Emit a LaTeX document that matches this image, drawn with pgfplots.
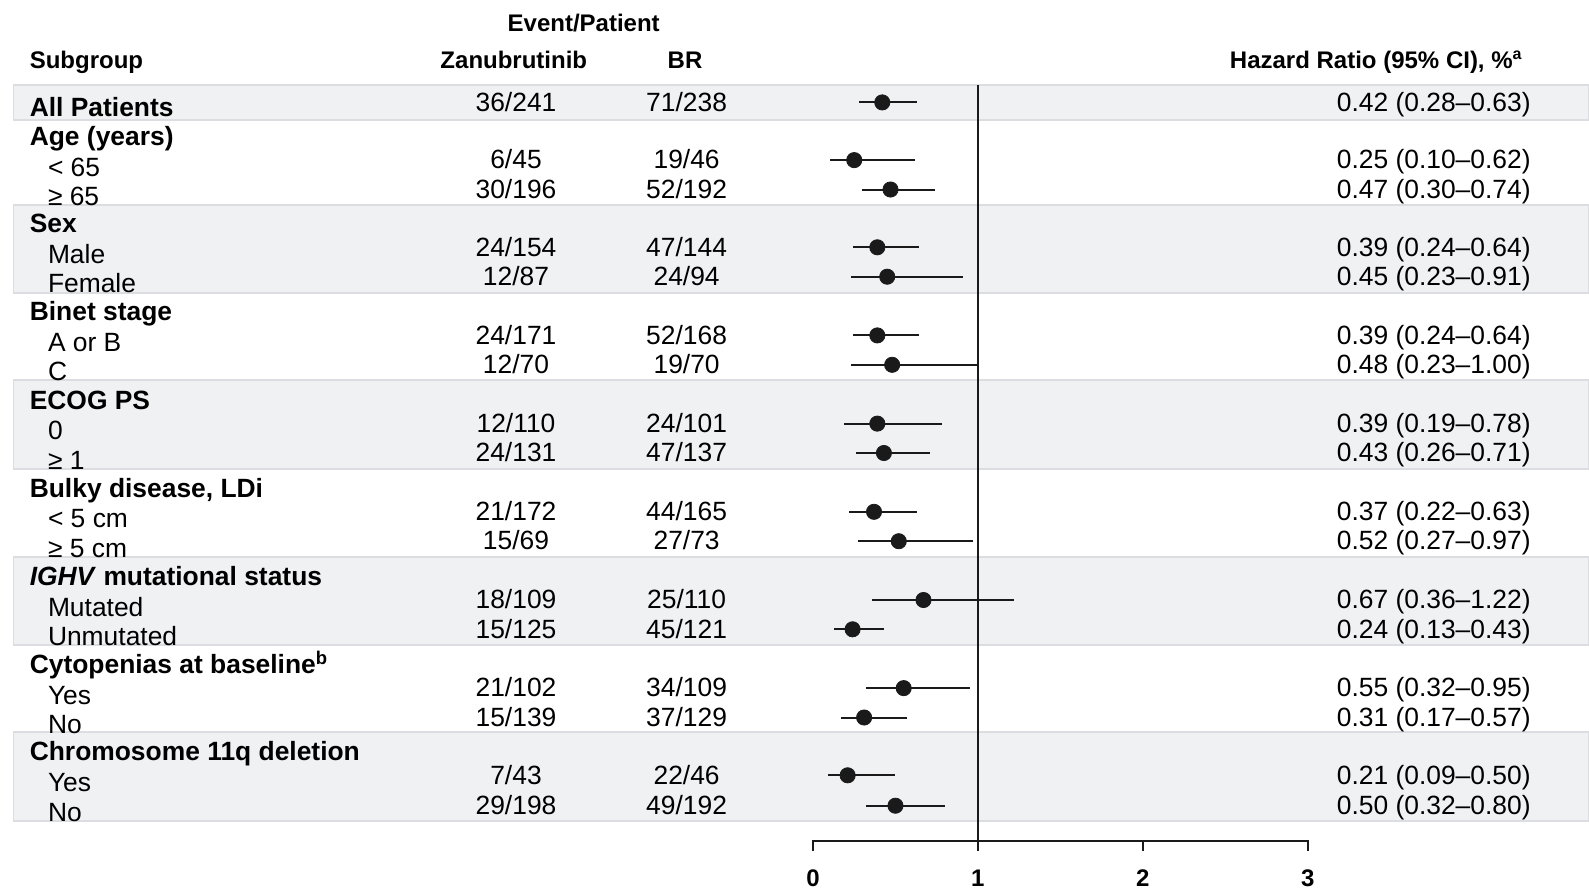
\documentclass[border=0pt]{standalone}
\usepackage{pgfplots}
\pgfplotsset{compat=1.18}
\usepackage{pgfplotstable}
\usepackage{fontspec}
\setmainfont{Liberation Sans}
\definecolor{band}{HTML}{F0F1F3}
\definecolor{bandline}{HTML}{DCDDE0}
\definecolor{ink}{HTML}{1A1A1A}

\pgfplotstableread{
y     hr    lo    hi
102.4 0.42  0.28  0.63
160.1 0.25  0.10  0.62
189.5 0.47  0.30  0.74
247.3 0.39  0.24  0.64
276.7 0.45  0.23  0.91
335.4 0.39  0.24  0.64
364.8 0.48  0.23  1.00
423.6 0.39  0.19  0.78
453.0 0.43  0.26  0.71
511.8 0.37  0.22  0.63
541.2 0.52  0.27  0.97
600.0 0.67  0.36  1.22
629.3 0.24  0.13  0.43
688.1 0.55  0.32  0.95
717.5 0.31  0.17  0.57
775.3 0.21  0.09  0.50
805.7 0.50  0.32  0.80
}\hrdata

\newcommand{\bodyf}{\fontsize{13.2}{15}\selectfont}
\newcommand{\headf}{\fontsize{12}{14}\selectfont\bfseries}

\begin{document}
\begin{tikzpicture}[every node/.append style={inner sep=0pt}]
\begin{axis}[
  width=794.5pt, height=445pt, scale only axis,
  xmin=-4.9303, xmax=4.7059,
  ymin=0, ymax=890, y dir=reverse,
  hide axis, clip=false,
]
% bands
\fill[band, draw=bandline, line width=0.6pt] (axis cs:-4.8496,85) rectangle (axis cs:4.7059,120);
\fill[band, draw=bandline, line width=0.6pt] (axis cs:-4.8496,205) rectangle (axis cs:4.7059,293);
\fill[band, draw=bandline, line width=0.6pt] (axis cs:-4.8496,380) rectangle (axis cs:4.7059,469);
\fill[band, draw=bandline, line width=0.6pt] (axis cs:-4.8496,557) rectangle (axis cs:4.7059,645);
\fill[band, draw=bandline, line width=0.6pt] (axis cs:-4.8496,732) rectangle (axis cs:4.7059,821);

% reference line and bottom axis
\addplot[ink, line width=1pt] coordinates {(1,85) (1,850.7)};
\addplot[ink, line width=1pt] coordinates {(0,850.7) (0,840.7) (3,840.7) (3,850.7)};
\addplot[ink, line width=1pt] coordinates {(2,840.7) (2,850.7)};

% estimates with CI
\addplot[only marks, mark=*, mark size=3.8pt, color=ink,
  error bars/.cd, x dir=both, x explicit, error mark=none,
  error bar style={line width=1pt, ink}]
  table[x=hr, y=y,
        x error plus expr=\thisrow{hi}-\thisrow{hr},
        x error minus expr=\thisrow{hr}-\thisrow{lo}] {\hrdata};

% tick labels
\node[anchor=base, font=\headf] at (axis cs:0,886.7) {0};
\node[anchor=base, font=\headf] at (axis cs:1,886.7) {1};
\node[anchor=base, font=\headf] at (axis cs:2,886.7) {2};
\node[anchor=base, font=\headf] at (axis cs:3,886.7) {3};

% column headers
\node[anchor=base, font=\headf] at (axis cs:-1.3905,31.7) {Event/Patient};
\node[anchor=base west, font=\headf] at (axis cs:-4.7520,68.3) {Subgroup};
\node[anchor=base, font=\headf] at (axis cs:-1.8144,68.3) {Zanubrutinib};
\node[anchor=base, font=\headf] at (axis cs:-0.7762,68.3) {BR};
\node[anchor=base east, font=\headf] at (axis cs:4.3056,68.3) {Hazard Ratio (95\% CI), \%\textsuperscript{a}};

% group labels
\node[anchor=base west, font=\bodyf\bfseries] at (axis cs:-4.7520,116.7) {All Patients};
\node[anchor=base west, font=\bodyf\bfseries] at (axis cs:-4.7520,145.3) {Age (years)};
\node[anchor=base west, font=\bodyf\bfseries] at (axis cs:-4.7520,232.8) {Sex};
\node[anchor=base west, font=\bodyf\bfseries] at (axis cs:-4.7520,320.9) {Binet stage};
\node[anchor=base west, font=\bodyf\bfseries] at (axis cs:-4.7520,409.1) {ECOG PS};
\node[anchor=base west, font=\bodyf\bfseries] at (axis cs:-4.7520,497.3) {Bulky disease, LDi};
\node[anchor=base west, font=\bodyf\bfseries] at (axis cs:-4.7520,585.5) {\textit{IGHV} mutational status};
\node[anchor=base west, font=\bodyf\bfseries] at (axis cs:-4.7520,673.6) {Cytopenias at baseline\textsuperscript{b}};
\node[anchor=base west, font=\bodyf\bfseries] at (axis cs:-4.7520,760.8) {Chromosome 11q deletion};

% sub labels
\node[anchor=base west, font=\bodyf] at (axis cs:-4.6416,176.1) {< 65};
\node[anchor=base west, font=\bodyf] at (axis cs:-4.6416,205.5) {≥ 65};
\node[anchor=base west, font=\bodyf] at (axis cs:-4.6416,263.3) {Male};
\node[anchor=base west, font=\bodyf] at (axis cs:-4.6416,292.7) {Female};
\node[anchor=base west, font=\bodyf] at (axis cs:-4.6416,351.4) {A or B};
\node[anchor=base west, font=\bodyf] at (axis cs:-4.6416,380.8) {C};
\node[anchor=base west, font=\bodyf] at (axis cs:-4.6416,439.6) {0};
\node[anchor=base west, font=\bodyf] at (axis cs:-4.6416,469.0) {≥ 1};
\node[anchor=base west, font=\bodyf] at (axis cs:-4.6416,527.8) {< 5 cm};
\node[anchor=base west, font=\bodyf] at (axis cs:-4.6416,557.2) {≥ 5 cm};
\node[anchor=base west, font=\bodyf] at (axis cs:-4.6416,616.0) {Mutated};
\node[anchor=base west, font=\bodyf] at (axis cs:-4.6416,645.3) {Unmutated};
\node[anchor=base west, font=\bodyf] at (axis cs:-4.6416,704.1) {Yes};
\node[anchor=base west, font=\bodyf] at (axis cs:-4.6416,733.5) {No};
\node[anchor=base west, font=\bodyf] at (axis cs:-4.6416,791.3) {Yes};
\node[anchor=base west, font=\bodyf] at (axis cs:-4.6416,821.7) {No};

% Zanubrutinib column
\node[anchor=base, font=\bodyf] at (axis cs:-1.8011,111.1) {36/241};
\node[anchor=base, font=\bodyf] at (axis cs:-1.8011,168.8) {6/45};
\node[anchor=base, font=\bodyf] at (axis cs:-1.8011,198.2) {30/196};
\node[anchor=base, font=\bodyf] at (axis cs:-1.8011,256.0) {24/154};
\node[anchor=base, font=\bodyf] at (axis cs:-1.8011,285.4) {12/87};
\node[anchor=base, font=\bodyf] at (axis cs:-1.8011,344.1) {24/171};
\node[anchor=base, font=\bodyf] at (axis cs:-1.8011,373.5) {12/70};
\node[anchor=base, font=\bodyf] at (axis cs:-1.8011,432.3) {12/110};
\node[anchor=base, font=\bodyf] at (axis cs:-1.8011,461.7) {24/131};
\node[anchor=base, font=\bodyf] at (axis cs:-1.8011,520.5) {21/172};
\node[anchor=base, font=\bodyf] at (axis cs:-1.8011,549.9) {15/69};
\node[anchor=base, font=\bodyf] at (axis cs:-1.8011,608.7) {18/109};
\node[anchor=base, font=\bodyf] at (axis cs:-1.8011,638.0) {15/125};
\node[anchor=base, font=\bodyf] at (axis cs:-1.8011,696.8) {21/102};
\node[anchor=base, font=\bodyf] at (axis cs:-1.8011,726.2) {15/139};
\node[anchor=base, font=\bodyf] at (axis cs:-1.8011,784.0) {7/43};
\node[anchor=base, font=\bodyf] at (axis cs:-1.8011,814.4) {29/198};

% BR column
\node[anchor=base, font=\bodyf] at (axis cs:-0.7665,111.1) {71/238};
\node[anchor=base, font=\bodyf] at (axis cs:-0.7665,168.8) {19/46};
\node[anchor=base, font=\bodyf] at (axis cs:-0.7665,198.2) {52/192};
\node[anchor=base, font=\bodyf] at (axis cs:-0.7665,256.0) {47/144};
\node[anchor=base, font=\bodyf] at (axis cs:-0.7665,285.4) {24/94};
\node[anchor=base, font=\bodyf] at (axis cs:-0.7665,344.1) {52/168};
\node[anchor=base, font=\bodyf] at (axis cs:-0.7665,373.5) {19/70};
\node[anchor=base, font=\bodyf] at (axis cs:-0.7665,432.3) {24/101};
\node[anchor=base, font=\bodyf] at (axis cs:-0.7665,461.7) {47/137};
\node[anchor=base, font=\bodyf] at (axis cs:-0.7665,520.5) {44/165};
\node[anchor=base, font=\bodyf] at (axis cs:-0.7665,549.9) {27/73};
\node[anchor=base, font=\bodyf] at (axis cs:-0.7665,608.7) {25/110};
\node[anchor=base, font=\bodyf] at (axis cs:-0.7665,638.0) {45/121};
\node[anchor=base, font=\bodyf] at (axis cs:-0.7665,696.8) {34/109};
\node[anchor=base, font=\bodyf] at (axis cs:-0.7665,726.2) {37/129};
\node[anchor=base, font=\bodyf] at (axis cs:-0.7665,784.0) {22/46};
\node[anchor=base, font=\bodyf] at (axis cs:-0.7665,814.4) {49/192};

% HR column
\node[anchor=base east, font=\bodyf] at (axis cs:4.3542,111.1) {0.42 (0.28–0.63)};
\node[anchor=base east, font=\bodyf] at (axis cs:4.3542,168.8) {0.25 (0.10–0.62)};
\node[anchor=base east, font=\bodyf] at (axis cs:4.3542,198.2) {0.47 (0.30–0.74)};
\node[anchor=base east, font=\bodyf] at (axis cs:4.3542,256.0) {0.39 (0.24–0.64)};
\node[anchor=base east, font=\bodyf] at (axis cs:4.3542,285.4) {0.45 (0.23–0.91)};
\node[anchor=base east, font=\bodyf] at (axis cs:4.3542,344.1) {0.39 (0.24–0.64)};
\node[anchor=base east, font=\bodyf] at (axis cs:4.3542,373.5) {0.48 (0.23–1.00)};
\node[anchor=base east, font=\bodyf] at (axis cs:4.3542,432.3) {0.39 (0.19–0.78)};
\node[anchor=base east, font=\bodyf] at (axis cs:4.3542,461.7) {0.43 (0.26–0.71)};
\node[anchor=base east, font=\bodyf] at (axis cs:4.3542,520.5) {0.37 (0.22–0.63)};
\node[anchor=base east, font=\bodyf] at (axis cs:4.3542,549.9) {0.52 (0.27–0.97)};
\node[anchor=base east, font=\bodyf] at (axis cs:4.3542,608.7) {0.67 (0.36–1.22)};
\node[anchor=base east, font=\bodyf] at (axis cs:4.3542,638.0) {0.24 (0.13–0.43)};
\node[anchor=base east, font=\bodyf] at (axis cs:4.3542,696.8) {0.55 (0.32–0.95)};
\node[anchor=base east, font=\bodyf] at (axis cs:4.3542,726.2) {0.31 (0.17–0.57)};
\node[anchor=base east, font=\bodyf] at (axis cs:4.3542,784.0) {0.21 (0.09–0.50)};
\node[anchor=base east, font=\bodyf] at (axis cs:4.3542,814.4) {0.50 (0.32–0.80)};
\end{axis}
\pgfresetboundingbox
\path (current axis.south west) rectangle (current axis.north east);
\end{tikzpicture}
\end{document}
